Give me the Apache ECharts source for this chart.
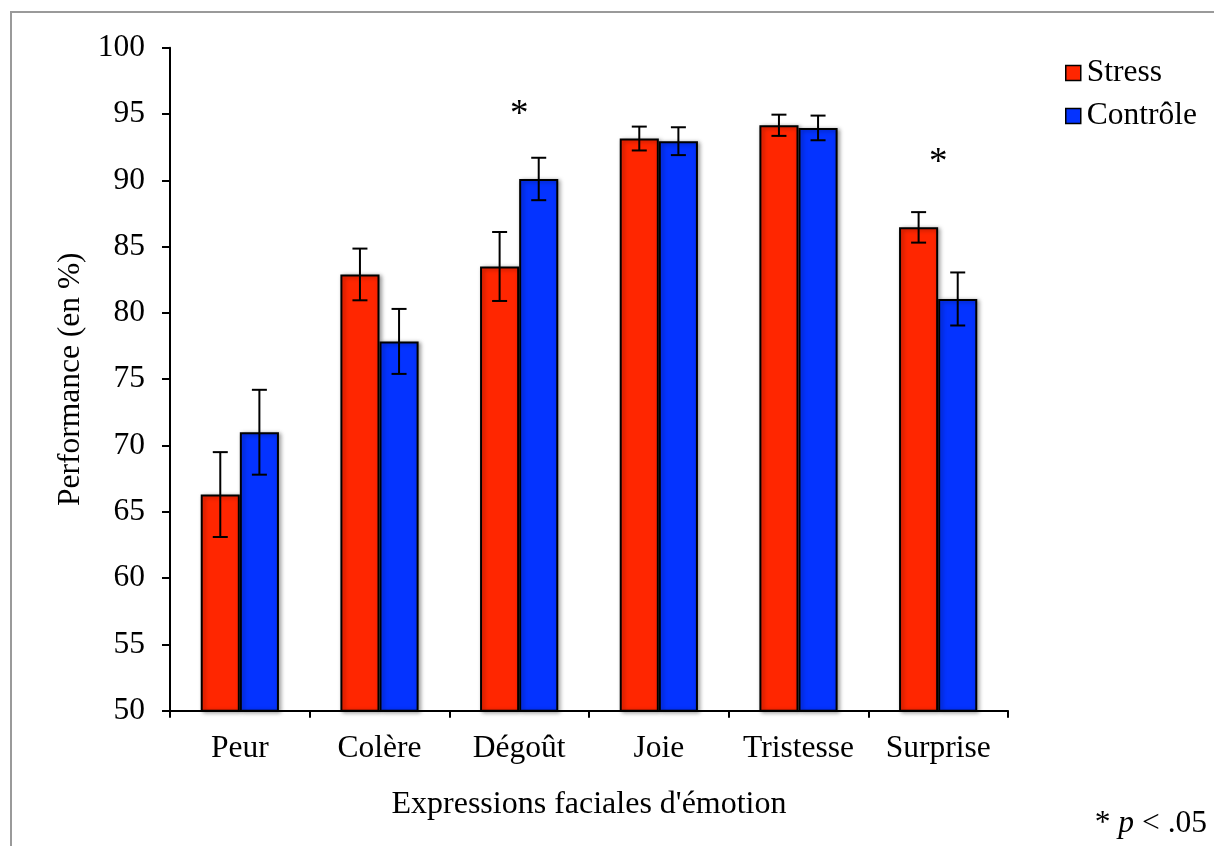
<!DOCTYPE html>
<html>
<head>
<meta charset="utf-8">
<script src="https://cdn.jsdelivr.net/npm/echarts@6/dist/echarts.min.js"></script>
<style>
  html, body { margin: 0; padding: 0; background: #fff; }
  #chart { width: 1214px; height: 846px; }
</style>
</head>
<body>
<div id="chart"></div>
<script>
// Emotion categories and mean recognition performance (%) with standard errors
var categories = ['Peur', 'Colère', 'Dégoût', 'Joie', 'Tristesse', 'Surprise'];
var seriesNames = ['Stress', 'Contrôle'];
var stress = [66.3, 82.9, 83.5, 93.15, 94.15, 86.45];
var stressErr = [3.2, 1.95, 2.6, 0.9, 0.8, 1.15];
var controle = [71.0, 77.85, 90.1, 92.95, 93.95, 81.05];
var controleErr = [3.2, 2.45, 1.6, 1.05, 0.93, 2.0];
// Significance markers (category, height on the value axis)
var sigMarks = [['Dégoût', 94.9], ['Surprise', 91.3]];
var yTicks = { min: 50, max: 100, interval: 5 };

var FONT = "'Liberation Serif', 'Times New Roman', serif";
var FS = 31.5;
var RED = '#FF2600';
var BLUE = '#0433FF';
var CAT_GAP = 0.44;

function errData(means, errs) {
  return means.map(function (m, i) { return [i, m - errs[i], m + errs[i]]; });
}

// Draws a vertical error bar with caps, offset to sit on the matching bar
function errorRenderer(side) {
  return function (params, api) {
    var idx = api.value(0);
    var lo = api.coord([idx, api.value(1)]);
    var hi = api.coord([idx, api.value(2)]);
    var band = api.size([1, 0])[0];
    var barW = band * (1 - CAT_GAP) / 2;
    var x = lo[0] + side * barW / 2;
    var cap = 7.5;
    var style = { stroke: '#000', lineWidth: 2 };
    return {
      type: 'group',
      children: [
        { type: 'line', shape: { x1: x, y1: lo[1], x2: x, y2: hi[1] }, style: style },
        { type: 'line', shape: { x1: x - cap, y1: hi[1], x2: x + cap, y2: hi[1] }, style: style },
        { type: 'line', shape: { x1: x - cap, y1: lo[1], x2: x + cap, y2: lo[1] }, style: style }
      ]
    };
  };
}

var barStyle = function (color) {
  return {
    color: color,
    borderColor: '#000',
    borderWidth: 2,
    shadowColor: 'rgba(0,0,0,0.35)',
    shadowBlur: 4,
    shadowOffsetX: 2,
    shadowOffsetY: 1
  };
};

var chart = echarts.init(document.getElementById('chart'), null, { renderer: 'canvas' });

chart.setOption({
  backgroundColor: '#fff',
  animation: false,
  textStyle: { fontFamily: FONT },
  grid: { left: 170, right: 206, top: 47.7, bottom: 135.3, containLabel: false },
  legend: {
    orient: 'vertical',
    left: 1060,
    top: 52,
    itemWidth: 15,
    itemHeight: 15,
    itemGap: 11,
    icon: 'rect',
    data: seriesNames,
    textStyle: { fontFamily: FONT, fontSize: FS, color: '#000', padding: [0, 0, 0, 1] },
    itemStyle: { borderColor: '#000', borderWidth: 1.5 }
  },
  xAxis: {
    type: 'category',
    data: categories,
    name: "Expressions faciales d'émotion",
    nameLocation: 'middle',
    nameGap: 78,
    nameTextStyle: { fontFamily: FONT, fontSize: 32, color: '#000' },
    axisLine: { lineStyle: { color: '#000', width: 2 } },
    axisTick: { show: true, interval: 0, alignWithLabel: false, length: 7, lineStyle: { color: '#000', width: 2 } },
    axisLabel: { interval: 0, fontFamily: FONT, fontSize: FS, color: '#000', margin: 22 },
    splitLine: { show: false }
  },
  yAxis: {
    type: 'value',
    min: yTicks.min,
    max: yTicks.max,
    interval: yTicks.interval,
    name: 'Performance (en %)',
    nameLocation: 'middle',
    nameGap: 82,
    nameRotate: 90,
    nameTextStyle: { fontFamily: FONT, fontSize: FS, color: '#000' },
    axisLine: { show: true, lineStyle: { color: '#000', width: 2 } },
    axisTick: { show: true, length: 8, lineStyle: { color: '#000', width: 2 } },
    axisLabel: { fontFamily: FONT, fontSize: FS, color: '#000', margin: 25 },
    splitLine: { show: false }
  },
  series: [
    {
      name: seriesNames[0],
      type: 'bar',
      data: stress,
      barGap: '0%',
      barCategoryGap: (CAT_GAP * 100) + '%',
      itemStyle: barStyle(RED)
    },
    {
      name: seriesNames[1],
      type: 'bar',
      data: controle,
      barGap: '0%',
      barCategoryGap: (CAT_GAP * 100) + '%',
      itemStyle: barStyle(BLUE)
    },
    {
      name: 'errStress',
      type: 'custom',
      renderItem: errorRenderer(-1),
      data: errData(stress, stressErr),
      encode: { x: 0, y: [1, 2] },
      z: 5
    },
    {
      name: 'errControle',
      type: 'custom',
      renderItem: errorRenderer(1),
      data: errData(controle, controleErr),
      encode: { x: 0, y: [1, 2] },
      z: 5
    },
    {
      name: 'significance',
      type: 'scatter',
      data: sigMarks,
      symbolSize: 1,
      itemStyle: { color: 'rgba(0,0,0,0)', opacity: 1 },
      label: { show: true, position: 'inside', formatter: '*', fontFamily: FONT, fontSize: 37, color: '#000', opacity: 1 },
      silent: true,
      z: 6
    }
  ],
  graphic: [
    {
      type: 'rect',
      shape: { x: 11, y: 12, width: 1260, height: 900 },
      style: { fill: 'none', stroke: '#9a9a9a', lineWidth: 2 },
      silent: true
    },
    {
      type: 'text',
      right: 7,
      top: 808,
      style: {
        text: '* {i|p} < .05',
        font: FS + "px " + FONT,
        fill: '#000',
        rich: { i: { fontStyle: 'italic', fontFamily: FONT, fontSize: FS } }
      }
    }
  ]
});
</script>
</body>
</html>
